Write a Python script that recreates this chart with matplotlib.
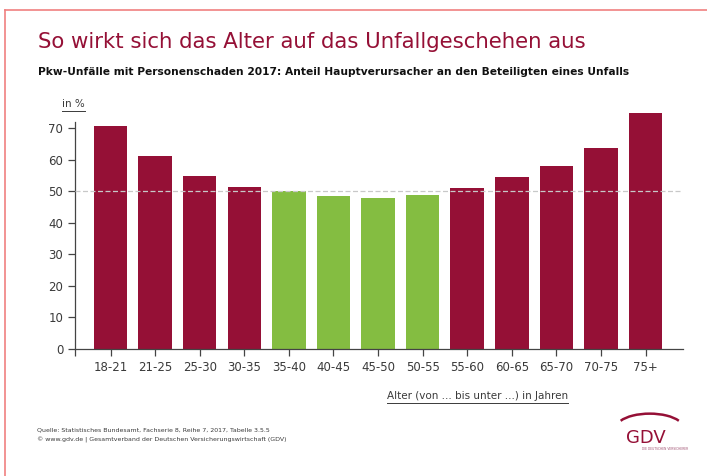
import matplotlib
matplotlib.use('Agg')
import matplotlib.pyplot as plt
from matplotlib.lines import Line2D
from matplotlib.patches import Arc

# Daten
altersgruppen = ['18-21', '21-25', '25-30', '30-35', '35-40', '40-45', '45-50',
                 '50-55', '55-60', '60-65', '65-70', '70-75', '75+']
anteil = [70.7, 61.3, 54.9, 51.5, 50.0, 48.5, 47.9, 48.8, 50.9, 54.4, 58.1, 63.8, 74.8]
unter_schnitt = [False, False, False, False, True, True, True, True,
                 False, False, False, False, False]
y_ticks = [0, 10, 20, 30, 40, 50, 60, 70]
referenz = 50

rot = '#951036'
gruen = '#84bd41'
grau = '#3a3a3a'

plt.rcParams['font.family'] = ['DejaVu Sans']

fig = plt.figure(figsize=(7.07, 4.76), dpi=100)
ax = fig.add_axes([0.106, 0.2674, 0.86, 0.4763])

# Rahmen oben und links
fig.add_artist(Line2D([0.007, 1.0], [0.979, 0.979], color='#f08080', lw=1.2))
fig.add_artist(Line2D([0.007, 0.007], [0.0, 0.979], color='#f08080', lw=1.2))

x = list(range(len(altersgruppen)))
farben = [gruen if g else rot for g in unter_schnitt]
ax.bar(x, anteil, width=0.75, color=farben, zorder=2, clip_on=False)
ax.axhline(referenz, color='#c8c8c8', linestyle=(0, (4, 2)), lw=0.9, zorder=3)

ax.set_xlim(-0.8, 12.84)
ax.set_ylim(0, 72)
ax.set_yticks(y_ticks)
ax.set_xticks(x)
ax.set_xticklabels(altersgruppen)
ax.set_xticks([-0.8], minor=True)
ax.tick_params(axis='both', which='both', direction='out', length=5,
               width=0.9, color='#444444', labelcolor=grau, labelsize=8.5)
ax.tick_params(axis='x', pad=4)
for s in ['top', 'right']:
    ax.spines[s].set_visible(False)
for s in ['left', 'bottom']:
    ax.spines[s].set_color('#444444')
    ax.spines[s].set_linewidth(0.9)

# Texte
fig.text(0.054, 0.912, 'So wirkt sich das Alter auf das Unfallgeschehen aus',
         color=rot, fontsize=15.3, va='center', ha='left')
fig.text(0.054, 0.848,
         'Pkw-Unfälle mit Personenschaden 2017: Anteil Hauptverursacher an den Beteiligten eines Unfalls',
         color='#111111', fontsize=7.7, fontweight='bold', va='center', ha='left')
t1 = fig.text(0.088, 0.781, 'in %', color=grau, fontsize=7.5, va='center', ha='left')
t2 = fig.text(0.547, 0.168, 'Alter (von ... bis unter ...) in Jahren', color=grau,
              fontsize=7.5, va='center', ha='left')
fig.text(0.052, 0.086,
         'Quelle: Statistisches Bundesamt, Fachserie 8, Reihe 7, 2017, Tabelle 3.5.5\n'
         '© www.gdv.de | Gesamtverband der Deutschen Versicherungswirtschaft (GDV)',
         color=grau, fontsize=4.5, va='center', ha='left', linespacing=1.9)

# Unterstreichungen
fig.canvas.draw()
r = fig.canvas.get_renderer()
inv = fig.transFigure.inverted()
for t in (t1, t2):
    bb = t.get_window_extent(renderer=r).transformed(inv)
    fig.add_artist(Line2D([bb.x0, bb.x1], [bb.y0 - 0.004, bb.y0 - 0.004],
                          color=grau, lw=0.7))

# GDV-Logo
fig.add_artist(Arc((0.919, 0.101), 0.095, 0.06, theta1=20, theta2=160,
                   color=rot, lw=1.8, transform=fig.transFigure))
fig.text(0.914, 0.08, 'GDV', color=rot, fontsize=13, ha='center', va='center')
fig.text(0.94, 0.057, 'DIE DEUTSCHEN VERSICHERER', color='#a05070', fontsize=2.2,
         ha='center', va='center')

fig.savefig('out.png', dpi=100)
